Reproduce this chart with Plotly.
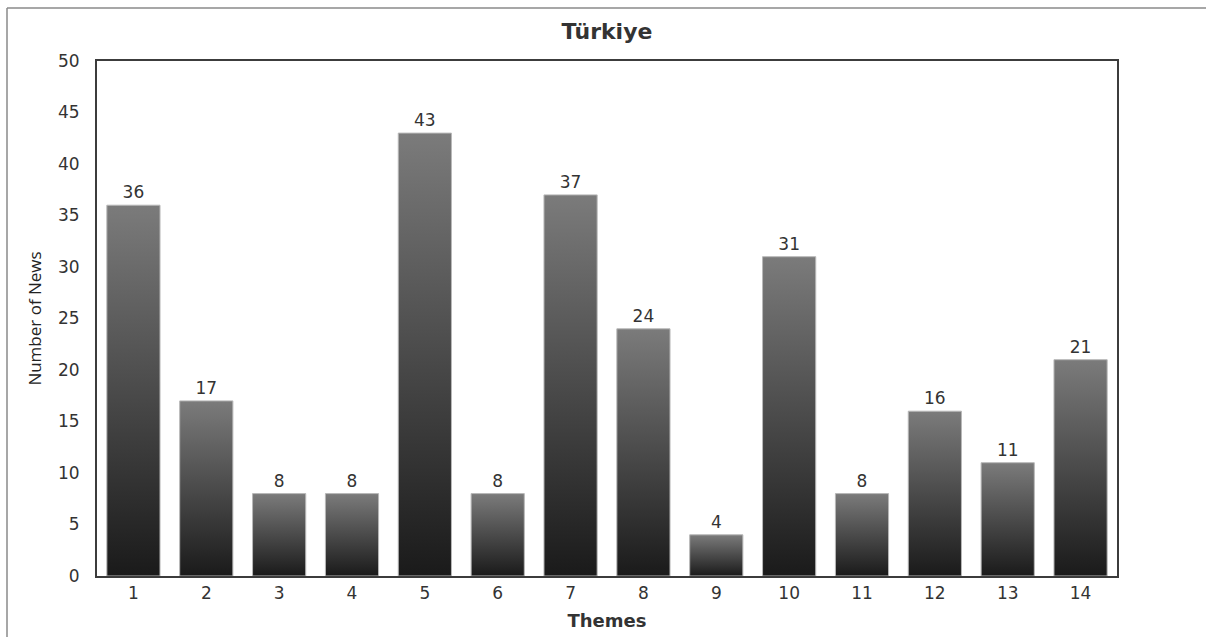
import plotly.graph_objects as go

# Number of news items per theme
themes = ["1", "2", "3", "4", "5", "6", "7", "8", "9", "10", "11", "12", "13", "14"]
news_counts = [36, 17, 8, 8, 43, 8, 37, 24, 4, 31, 8, 16, 11, 21]
y_ticks = [0, 5, 10, 15, 20, 25, 30, 35, 40, 45, 50]

TEXT = "#333333"
BASE_FONT = "DejaVu Sans, Verdana, sans-serif"

fig = go.Figure(
    go.Bar(
        x=themes,
        y=news_counts,
        text=[str(v) for v in news_counts],
        textposition="outside",
        textfont=dict(family=BASE_FONT, size=17, color=TEXT),
        cliponaxis=False,
        marker=dict(color="#4a4a4a", line=dict(color="#b8b8b8", width=1)),
        hoverinfo="x+y",
    )
)

fig.update_layout(
    width=1206,
    height=637,
    margin=dict(l=97, r=89, t=61, b=61, autoexpand=False),
    paper_bgcolor="white",
    plot_bgcolor="white",
    bargap=0.27,
    showlegend=False,
    title=dict(
        text="<b>Türkiye</b>",
        font=dict(family=BASE_FONT, size=22, color=TEXT),
        x=0.5,
        xref="paper",
        xanchor="center",
        y=1 - 31 / 637,
        yref="container",
        yanchor="middle",
    ),
    xaxis=dict(
        type="category",
        automargin=False,
        showline=True,
        linecolor="#3c3c3c",
        linewidth=2,
        mirror=True,
        showgrid=False,
        ticks="",
        ticklabelstandoff=1,
        tickfont=dict(family=BASE_FONT, size=17, color=TEXT),
        title=dict(
            text="<b>Themes</b>",
            font=dict(family=BASE_FONT, size=18, color=TEXT),
            standoff=12,
        ),
    ),
    yaxis=dict(
        range=[0, 50],
        tickvals=y_ticks,
        automargin=False,
        showline=True,
        linecolor="#3c3c3c",
        linewidth=2,
        mirror=True,
        showgrid=False,
        zeroline=False,
        ticks="",
        ticklabelstandoff=12,
        tickfont=dict(family=BASE_FONT, size=17, color=TEXT),
        title=dict(
            text="Number of News",
            font=dict(family="Open Sans, sans-serif", size=17, color="#222222"),
            standoff=12,
        ),
    ),
    shapes=[
        # thin grey frame around the chart image
        dict(type="line", xref="paper", yref="paper",
             x0=(7 - 97) / 1020, x1=(1206 - 97) / 1020,
             y0=(576 - 8) / 515, y1=(576 - 8) / 515,
             line=dict(color="#8a8a8a", width=1.5)),
        dict(type="line", xref="paper", yref="paper",
             x0=(7 - 97) / 1020, x1=(7 - 97) / 1020,
             y0=(576 - 8) / 515, y1=(576 - 640) / 515,
             line=dict(color="#8a8a8a", width=1.5)),
    ],
)

# Vertical grey-to-black shading applied to each bar
post_script = """
var gd = document.getElementById('{plot_id}');
function shadeBars() {
  var svg = gd.querySelector('svg.main-svg');
  if (!svg) return;
  var ns = 'http://www.w3.org/2000/svg';
  if (!document.getElementById('barShade')) {
    var defs = svg.querySelector('defs');
    if (!defs) { defs = document.createElementNS(ns, 'defs'); svg.insertBefore(defs, svg.firstChild); }
    var lg = document.createElementNS(ns, 'linearGradient');
    lg.setAttribute('id', 'barShade');
    lg.setAttribute('x1', '0'); lg.setAttribute('y1', '0');
    lg.setAttribute('x2', '0'); lg.setAttribute('y2', '1');
    [['0', '#7b7b7b'], ['1', '#1a1a1a']].forEach(function (s) {
      var st = document.createElementNS(ns, 'stop');
      st.setAttribute('offset', s[0]);
      st.setAttribute('stop-color', s[1]);
      lg.appendChild(st);
    });
    defs.appendChild(lg);
  }
  gd.querySelectorAll('.barlayer .point path').forEach(function (p) {
    p.style.fill = 'url(#barShade)';
  });
}
shadeBars();
gd.on('plotly_afterplot', shadeBars);
"""

fig.write_html("out.html", post_script=post_script)
